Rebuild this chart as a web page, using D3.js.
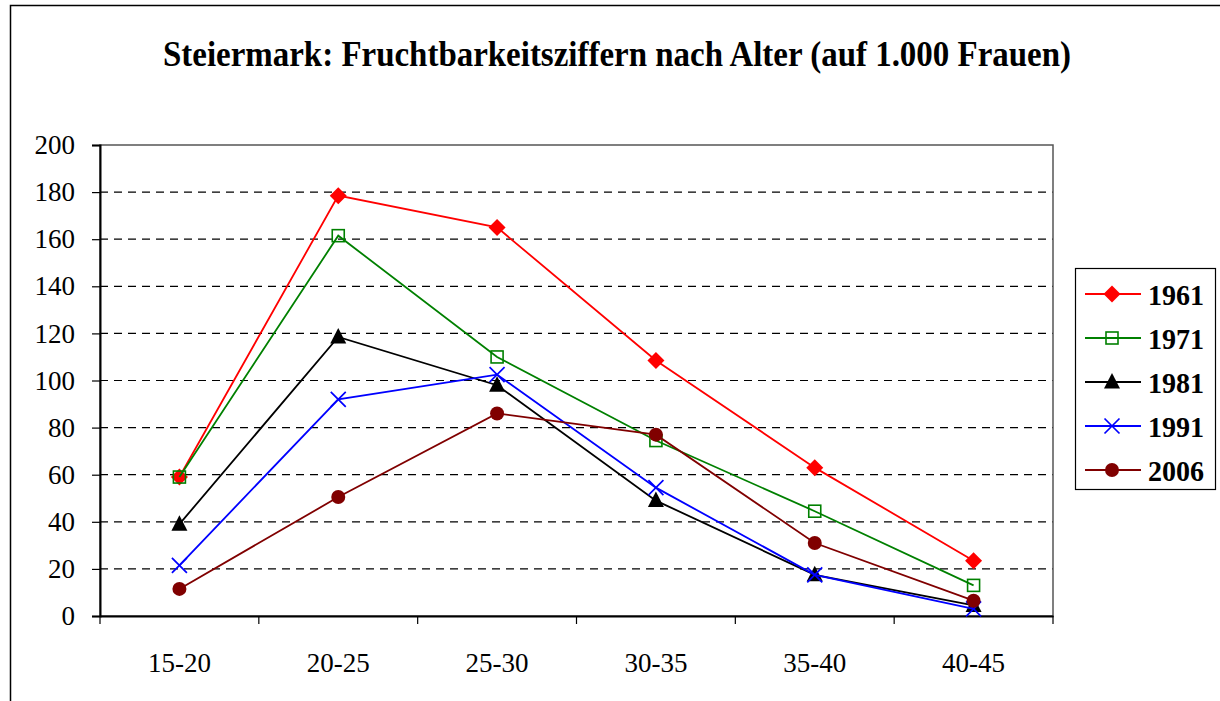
<!DOCTYPE html>
<html><head><meta charset="utf-8">
<script src="https://cdn.jsdelivr.net/npm/d3@7"></script>
<style>body{margin:0;background:#fff;}svg{display:block;}svg text{font-family:'Liberation Serif','Times New Roman',serif;}</style>
</head><body>
<svg id="c" width="1220" height="701"></svg>
<script>
const categories = ["15-20","20-25","25-30","30-35","35-40","40-45"];
const years = ["1961","1971","1981","1991","2006"];
const v1961 = [59, 178.5, 165, 108.5, 63, 23.5];
const v1971 = [59, 161.5, 110, 74.5, 44.5, 13];
const v1981 = [39, 118.5, 98, 49, 17.5, 4.5];
const v1991 = [21.5, 92, 102.5, 54.5, 17.5, 3];
const v2006 = [11.5, 50.5, 86, 77, 31, 6.5];
const yTicks = [0,20,40,60,80,100,120,140,160,180,200];
const title = "Steiermark: Fruchtbarkeitsziffern nach Alter (auf 1.000 Frauen)";

const seriesData = [v1961, v1971, v1981, v1991, v2006];
const colors = ["#ff0000","#008000","#000000","#0000ff","#800000"];
const symbols = ["diamond","square","triangle","cross","circle"];

const svg = d3.select("#c");
const font = "'Liberation Serif','Times New Roman',serif";
const L = 100, R = 1053, T = 145, B = 616;

// outer frame
svg.append("rect").attr("x",10.5).attr("y",5.5).attr("width",1300).attr("height",800)
  .attr("fill","none").attr("stroke","#000").attr("stroke-width",1.5);

svg.append("text").attr("x",617).attr("y",66).attr("text-anchor","middle")
  .style("font-family",font).attr("font-weight","bold").attr("font-size",35)
  .attr("textLength",908).attr("lengthAdjust","spacingAndGlyphs")
  .text(title);

const x = d3.scaleBand().domain(categories).range([L,R]);
const y = d3.scaleLinear().domain([0,200]).range([B,T]);

// gridlines
svg.append("g").selectAll("line").data(yTicks.filter(d=>d>0 && d<200)).join("line")
  .attr("x1",L).attr("x2",R).attr("y1",d=>y(d)).attr("y2",d=>y(d))
  .attr("stroke","#000").attr("stroke-width",1.2).attr("stroke-dasharray","8,6");

// plot frame
svg.append("rect").attr("x",L).attr("y",T).attr("width",R-L).attr("height",B-T)
  .attr("fill","none").attr("stroke","#555").attr("stroke-width",1.5);

// y axis
const ya = svg.append("g").attr("transform",`translate(${L},0)`)
  .call(d3.axisLeft(y).tickValues(yTicks).tickSize(8).tickPadding(17));
ya.attr("font-family",null);
ya.select(".domain").attr("stroke","#000").attr("stroke-width",2);
ya.selectAll("line").attr("stroke","#000").attr("stroke-width",1.2);
ya.selectAll("text").style("font-family",font).attr("font-size",27).attr("fill","#000");

// x axis
const xa = svg.append("g").attr("transform",`translate(0,${B})`)
  .call(d3.axisBottom(x).tickSize(0).tickPadding(37));
xa.attr("font-family",null);
xa.select(".domain").attr("stroke","#000").attr("stroke-width",2);
xa.selectAll("text").style("font-family",font).attr("font-size",27).attr("fill","#000");
const xt = categories.map(c=>x(c)).concat([R]);
xa.selectAll("line.tk").data(xt).join("line").attr("class","tk")
  .attr("x1",d=>d).attr("x2",d=>d).attr("y1",0).attr("y2",8)
  .attr("stroke","#000").attr("stroke-width",1.2);

function drawMarker(g, type, color, cx, cy){
  if(type==="diamond"){
    g.append("path").attr("d",`M${cx},${cy-8.5}L${cx+8.5},${cy}L${cx},${cy+8.5}L${cx-8.5},${cy}Z`).attr("fill",color);
  } else if(type==="square"){
    g.append("rect").attr("x",cx-6).attr("y",cy-6).attr("width",12).attr("height",12)
      .attr("fill","none").attr("stroke",color).attr("stroke-width",1.6);
  } else if(type==="triangle"){
    g.append("path").attr("d",`M${cx},${cy-9}L${cx+8},${cy+6.5}L${cx-8},${cy+6.5}Z`).attr("fill",color);
  } else if(type==="cross"){
    g.append("path").attr("d",`M${cx-7.5},${cy-7.5}L${cx+7.5},${cy+7.5}M${cx+7.5},${cy-7.5}L${cx-7.5},${cy+7.5}`)
      .attr("stroke",color).attr("stroke-width",1.7);
  } else {
    g.append("circle").attr("cx",cx).attr("cy",cy).attr("r",7).attr("fill",color);
  }
}

const line = d3.line().x((d,i)=>x(categories[i])+x.bandwidth()/2).y(d=>y(d));
seriesData.forEach((vals,si)=>{
  const g = svg.append("g");
  g.append("path").attr("d",line(vals)).attr("fill","none").attr("stroke",colors[si]).attr("stroke-width",1.8);
  vals.forEach((v,i)=>drawMarker(g, symbols[si], colors[si], x(categories[i])+x.bandwidth()/2, y(v)));
});

// legend
const lg = svg.append("g");
lg.append("rect").attr("x",1075.5).attr("y",268.5).attr("width",140).attr("height",221)
  .attr("fill","#fff").attr("stroke","#000").attr("stroke-width",1.2);
years.forEach((yr,i)=>{
  const cy = 294 + i*44;
  lg.append("line").attr("x1",1085).attr("x2",1141).attr("y1",cy).attr("y2",cy)
    .attr("stroke",colors[i]).attr("stroke-width",1.8);
  drawMarker(lg, symbols[i], colors[i], 1112, cy);
  lg.append("text").attr("x",1148).attr("y",cy+11).style("font-family",font)
    .attr("font-weight","bold").attr("font-size",30)
    .attr("textLength",56).attr("lengthAdjust","spacingAndGlyphs").text(yr);
});
</script>
</body></html>
